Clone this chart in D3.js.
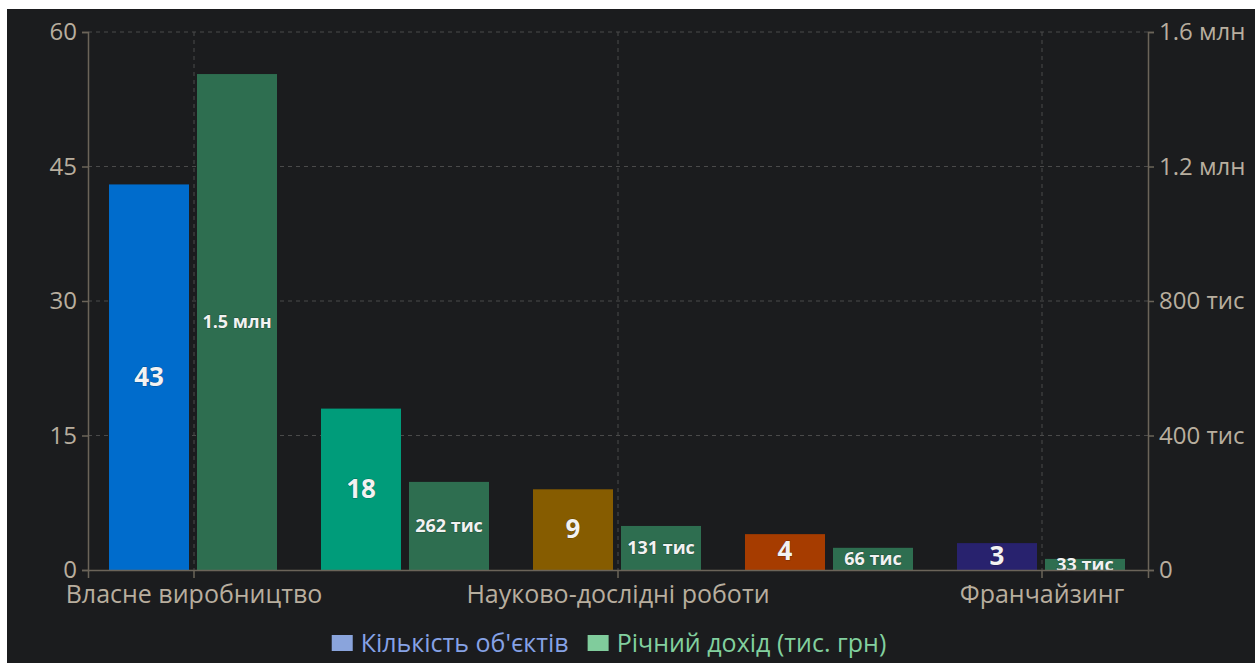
<!DOCTYPE html>
<html><head><meta charset="utf-8">
<script src="https://cdn.jsdelivr.net/npm/d3@7"></script>
<style>
html,body{margin:0;padding:0;background:#ffffff;overflow:hidden}
svg{display:block}
</style></head><body>
<svg id="chart" width="1255" height="663"></svg>
<script>
const categories = ["Власне виробництво", "Ліцензування", "Науково-дослідні роботи", "Консалтинг", "Франчайзинг"];
const shownLabels = ["Власне виробництво", "Науково-дослідні роботи", "Франчайзинг"];
const countValues = [43, 18, 9, 4, 3];
const revenueValues = [1475, 262, 131, 66, 33];
const countColors = ["#006ccc", "#009c7a", "#865c00", "#a63c00", "#28226e"];
const revenueColor = "#2e6e50";
const leftTicks = [0, 15, 30, 45, 60];
const rightTicks = [0, 400, 800, 1200, 1600];
const seriesNames = ["Кількість об'єктів", "Річний дохід (тис. грн)"];
const legendColors = ["#8aa4dc", "#80cc9c"];
const legendTextColors = ["#86a2e6", "#82d09e"];

const fmtRev = v => v >= 1000 ? (d3.format(".1f")(v/1000) + " млн") : (v + " тис");
const fmtRevAxis = v => v === 0 ? "0" : fmtRev(v);

const svg = d3.select("#chart");
const font = "'Segoe UI','Open Sans','Noto Sans',sans-serif";
svg.append("rect").attr("x",7).attr("y",9).attr("width",1248).attr("height",654).attr("fill","#1b1c1e");

const L = 88, R = 1148, T = 32, B = 570;
const x = d3.scaleBand().domain(categories).range([L, R]).padding(0);
const yL = d3.scaleLinear().domain([0, 60]).range([B, T]);
const yR = d3.scaleLinear().domain([0, 1600]).range([B, T]);

const axisColor = "#6b6459";
const textColor = "#b8ae9e";

// horizontal grid
svg.append("g").selectAll("line").data(leftTicks.filter(d=>d>0)).join("line")
  .attr("x1", L).attr("x2", R).attr("y1", d=>yL(d)).attr("y2", d=>yL(d))
  .attr("stroke", "#4a4a4a").attr("stroke-dasharray", "4,4").attr("stroke-width",1);
// vertical grid at labeled categories
svg.append("g").selectAll("line").data(shownLabels).join("line")
  .attr("x1", d=>x(d)+x.bandwidth()/2).attr("x2", d=>x(d)+x.bandwidth()/2)
  .attr("y1", T).attr("y2", B)
  .attr("stroke", "#4a4a4a").attr("stroke-dasharray", "4,4").attr("stroke-width",1);

// bars
const bw = 80, gap = 4;
const g = svg.append("g");
g.selectAll("rect.c").data(categories).join("rect").attr("class","c")
  .attr("x", d=>x(d)+x.bandwidth()/2-gap-bw-1).attr("width", bw)
  .attr("y", (d,i)=>yL(countValues[i])).attr("height", (d,i)=>B-yL(countValues[i]))
  .attr("fill", (d,i)=>countColors[i]);
g.selectAll("rect.r").data(categories).join("rect").attr("class","r")
  .attr("x", d=>x(d)+x.bandwidth()/2+gap-1).attr("width", bw)
  .attr("y", (d,i)=>yR(revenueValues[i])).attr("height", (d,i)=>B-yR(revenueValues[i]))
  .attr("fill", revenueColor);

// bar labels
g.selectAll("text.c").data(categories).join("text").attr("class","c")
  .attr("x", d=>x(d)+x.bandwidth()/2-gap-bw/2-1)
  .attr("y", (d,i)=>(yL(countValues[i])+B)/2 - 1)
  .attr("dy","0.36em").attr("text-anchor","middle")
  .attr("font-family", font).attr("font-weight","bold").attr("font-size", 26)
  .attr("fill","#f2f2f2").attr("stroke","rgba(0,0,0,0.3)").attr("stroke-width",1).attr("paint-order","stroke")
  .text((d,i)=>countValues[i]);
g.selectAll("text.r").data(categories).join("text").attr("class","r")
  .attr("x", d=>x(d)+x.bandwidth()/2+gap+bw/2-1)
  .attr("y", (d,i)=>(yR(revenueValues[i])+B)/2)
  .attr("dy","0.36em").attr("text-anchor","middle")
  .attr("font-family", font).attr("font-weight","bold").attr("font-size", 18)
  .attr("fill","#f2f2f2").attr("stroke","rgba(0,0,0,0.3)").attr("stroke-width",1).attr("paint-order","stroke")
  .text((d,i)=>fmtRev(revenueValues[i]));

// left axis
const axL = svg.append("g").attr("transform",`translate(${L},0)`)
  .call(d3.axisLeft(yL).tickValues(leftTicks).tickSize(6).tickPadding(5));
// right axis
const axR = svg.append("g").attr("transform",`translate(${R},0)`)
  .call(d3.axisRight(yR).tickValues(rightTicks).tickSize(6).tickPadding(5).tickFormat(fmtRevAxis));
// bottom axis
const axB = svg.append("g").attr("transform",`translate(0,${B})`)
  .call(d3.axisBottom(x).tickValues(shownLabels).tickSize(8).tickPadding(7));
[axL, axR, axB].forEach(a=>{
  a.select(".domain").attr("stroke", axisColor).attr("stroke-width",1.5);
  a.selectAll(".tick line").attr("stroke", axisColor).attr("stroke-width",1.5);
  a.selectAll(".tick text").attr("fill", textColor).attr("font-family", font).attr("font-size", 24);
});
axB.selectAll(".tick text").attr("font-size", 25).attr("dy","0.71em");

// legend
const legend = svg.append("g");
const items = seriesNames.map((n,i)=>{
  const t = legend.append("text").attr("y", 643).attr("dy","0.35em")
    .attr("font-family", font).attr("font-size", 25).attr("fill", legendTextColors[i]).text(n);
  return {t, w: t.node().getComputedTextLength(), i};
});
const swW = 21, swGap = 8, itemGap = 19;
const total = items.reduce((s,it)=>s+swW+swGap+it.w,0) + itemGap*(items.length-1);
let cx = 609 - total/2;
items.forEach(it=>{
  legend.append("rect").attr("x", cx).attr("y", 635).attr("width", swW).attr("height", 16).attr("fill", legendColors[it.i]);
  it.t.attr("x", cx+swW+swGap);
  cx += swW+swGap+it.w+itemGap;
});
</script>
</body></html>
